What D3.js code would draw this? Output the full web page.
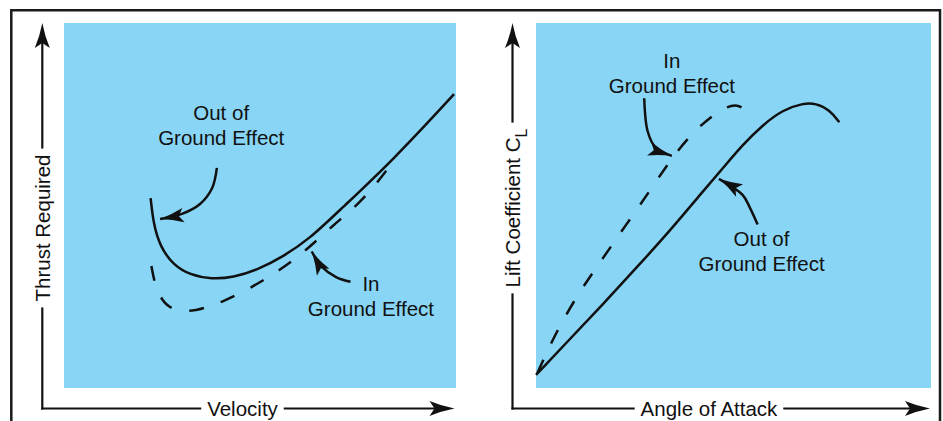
<!DOCTYPE html>
<html>
<head>
<meta charset="utf-8">
<script src="https://cdn.jsdelivr.net/npm/d3@7"></script>
<style>
  html, body { margin: 0; padding: 0; background: #fff; }
  text { font-family: "Liberation Sans", Arial, Helvetica, sans-serif; fill: #111; }
</style>
</head>
<body>
<script>
// thrust required vs velocity (both in % of plotted range)
var thrustOutOfGround = [
  [22.1, 52.0], [22.8, 45.1], [24.5, 38.7], [27.9, 33.7], [32.1, 31.0],
  [37.7, 29.8], [43.2, 30.3], [49.2, 32.3], [55.9, 36.0], [62.8, 41.0],
  [70.4, 48.8], [84.0, 62.5], [99.5, 80.5]
];
var thrustInGround = [
  [22.3, 33.4], [23.2, 28.2], [24.9, 24.1], [27.5, 21.4], [32.1, 20.9],
  [35.5, 21.8], [40.6, 23.6], [48.3, 27.8], [55.1, 32.3], [61.9, 37.8],
  [68.7, 44.7], [75.5, 50.6], [81.5, 58.4], [84.9, 63.4]
];

// lift coefficient vs angle of attack
var liftOutOfGround = [
  [0.0, 3.6], [8.4, 13.2], [16.9, 22.9], [25.3, 32.8], [33.7, 42.8],
  [42.2, 53.8], [47.3, 60.2], [52.3, 66.6], [57.4, 72.1], [62.5, 76.2],
  [67.5, 78.0], [70.9, 78.0], [74.3, 76.2], [76.8, 72.8]
];
var liftInGround = [
  [0.3, 4.0], [5.1, 15.4], [11.0, 26.4], [16.9, 35.5], [22.8, 44.7],
  [28.7, 53.8], [33.7, 62.0], [39.7, 70.2], [46.4, 76.2], [50.6, 78.0],
  [53.2, 76.2], [54.0, 73.9]
];

// pointer arrows, same units as the curves
var thrustOutArrow = [[39.0, 60.3], [37.8, 54.8], [34.7, 50.4], [30.1, 47.7], [24.5, 46.3]];
var thrustInArrow = [[73.1, 29.1], [69.4, 30.4], [65.8, 33.2], [63.2, 37.4]];
var liftInArrow = [[27.4, 79.4], [28.3, 70.2], [30.4, 65.7], [34.4, 63.6]];
var liftOutArrow = [[56.1, 44.8], [54.2, 49.3], [52.3, 52.9], [46.3, 57.3]];

// callout text: [x, y of first line, lines]
var thrustNotes = [
  [40.1, 73.4, ['Out of', 'Ground Effect']],
  [78.3, 26.6, ['In', 'Ground Effect']]
];
var liftNotes = [
  [34.4, 87.6, ['In', 'Ground Effect']],
  [57.1, 38.9, ['Out of', 'Ground Effect']]
];

var axisTitles = ['Thrust Required', 'Velocity', 'Lift Coefficient C', 'Angle of Attack'];

var width = 943, height = 421,
    blue = '#89d5f5',
    ink = '#111';

var svg = d3.select('body').append('svg')
    .attr('width', width)
    .attr('height', height);

var defs = svg.append('defs');
defs.append('marker')
    .attr('id', 'tip')
    .attr('markerUnits', 'userSpaceOnUse')
    .attr('orient', 'auto')
    .attr('refX', 0).attr('refY', 0)
    .attr('markerWidth', 30).attr('markerHeight', 30)
    .style('overflow', 'visible')
  .append('path')
    .attr('d', headPath(0.95))
    .style('fill', ink);

function headPath(s) {
  var p = [[0, 0], [-13, -2.5], [-25, -7.5], [-20, 0], [-25, 7.5], [-13, 2.5]]
      .map(function(d) { return [d[0] * s, d[1] * s]; });
  return 'M' + p[0] + 'Q' + p[1] + ' ' + p[2] + 'L' + p[3] + 'L' + p[4] + 'Q' + p[5] + ' ' + p[0] + 'Z';
}

// outer frame, open at the bottom
svg.append('path')
    .attr('d', 'M11.3,' + height + 'V10.3H940V' + height)
    .style('fill', 'none')
    .style('stroke', '#1a1a1a')
    .style('stroke-width', 2.5);

function panel(opts) {
  var g = svg.append('g');
  var x = d3.scaleLinear().domain([0, 100]).range(opts.xRange),
      y = d3.scaleLinear().domain([0, 100]).range([388, 23]);

  g.append('rect')
      .attr('x', opts.xRange[0])
      .attr('y', y(100))
      .attr('width', opts.xRange[1] - opts.xRange[0])
      .attr('height', y(0) - y(100))
      .style('fill', blue);

  var curve = d3.line()
      .x(function(d) { return x(d[0]); })
      .y(function(d) { return y(d[1]); })
      .curve(d3.curveBasis);
  var pointer = d3.line()
      .x(function(d) { return x(d[0]); })
      .y(function(d) { return y(d[1]); })
      .curve(d3.curveCatmullRom.alpha(0.5));

  g.append('path')
      .attr('d', curve(opts.inGround))
      .style('fill', 'none')
      .style('stroke', ink)
      .style('stroke-width', 2.5)
      .style('stroke-dasharray', '15,18');

  g.append('path')
      .attr('d', curve(opts.outGround))
      .style('fill', 'none')
      .style('stroke', ink)
      .style('stroke-width', 2.5);

  opts.arrows.forEach(function(a) {
    g.append('path')
        .attr('d', pointer(a))
        .attr('marker-end', 'url(#tip)')
        .style('fill', 'none')
        .style('stroke', ink)
        .style('stroke-width', 2.5);
  });

  opts.notes.forEach(function(n) {
    var t = g.append('text')
        .attr('text-anchor', 'middle')
        .style('font-size', '20.5px');
    n[2].forEach(function(s, i) {
      t.append('tspan')
          .attr('x', x(n[0]))
          .attr('y', y(n[1]) + i * 24.6)
          .text(s);
    });
  });

  // axes: open lines with arrowheads, broken around the titles
  var ax = opts.axisX, ay = 408.5, pad = 7;

  var yt = g.append('text')
      .attr('text-anchor', 'middle')
      .attr('dy', '0.36em')
      .attr('transform', 'translate(' + ax + ',' + opts.yTitleAt + ') rotate(-90)')
      .style('font-size', '20.5px')
      .text(opts.yTitle);
  if (opts.ySub) {
    yt.append('tspan')
        .attr('dy', 7)
        .style('font-size', '16px')
        .text(opts.ySub);
  }
  var yw = yt.node().getComputedTextLength();

  var xt = g.append('text')
      .attr('text-anchor', 'middle')
      .attr('x', opts.xTitleAt)
      .attr('y', ay)
      .attr('dy', '0.36em')
      .style('font-size', '20.5px')
      .text(opts.xTitle);
  var xw = xt.node().getComputedTextLength();

  var segs = [
    [ax, ay, ax, opts.yTitleAt + yw / 2 + pad],
    [ax, opts.yTitleAt - yw / 2 - pad, ax, 23 + 12],
    [ax, ay, opts.xTitleAt - xw / 2 - pad, ay],
    [opts.xTitleAt + xw / 2 + pad, ay, opts.xEnd - 12, ay]
  ];
  g.selectAll('line.axis').data(segs).enter().append('line')
      .attr('class', 'axis')
      .attr('x1', function(d) { return d[0]; })
      .attr('y1', function(d) { return d[1]; })
      .attr('x2', function(d) { return d[2]; })
      .attr('y2', function(d) { return d[3]; })
      .style('stroke', ink)
      .style('stroke-width', 2.2)
      .style('stroke-linecap', 'square');

  g.append('path')
      .attr('d', headPath(1))
      .attr('transform', 'translate(' + ax + ',23) rotate(-90)')
      .style('fill', ink);
  g.append('path')
      .attr('d', headPath(1))
      .attr('transform', 'translate(' + opts.xEnd + ',' + ay + ')')
      .style('fill', ink);
}

panel({
  xRange: [64, 456],
  outGround: thrustOutOfGround,
  inGround: thrustInGround,
  arrows: [thrustOutArrow, thrustInArrow],
  notes: thrustNotes,
  axisX: 42.3,
  yTitle: axisTitles[0],
  yTitleAt: 228,
  xTitle: axisTitles[1],
  xTitleAt: 242.5,
  xEnd: 454.5
});

panel({
  xRange: [536, 931],
  outGround: liftOutOfGround,
  inGround: liftInGround,
  arrows: [liftInArrow, liftOutArrow],
  notes: liftNotes,
  axisX: 512.5,
  yTitle: axisTitles[2],
  ySub: 'L',
  yTitleAt: 208,
  xTitle: axisTitles[3],
  xTitleAt: 709,
  xEnd: 930
});
</script>
</body>
</html>
